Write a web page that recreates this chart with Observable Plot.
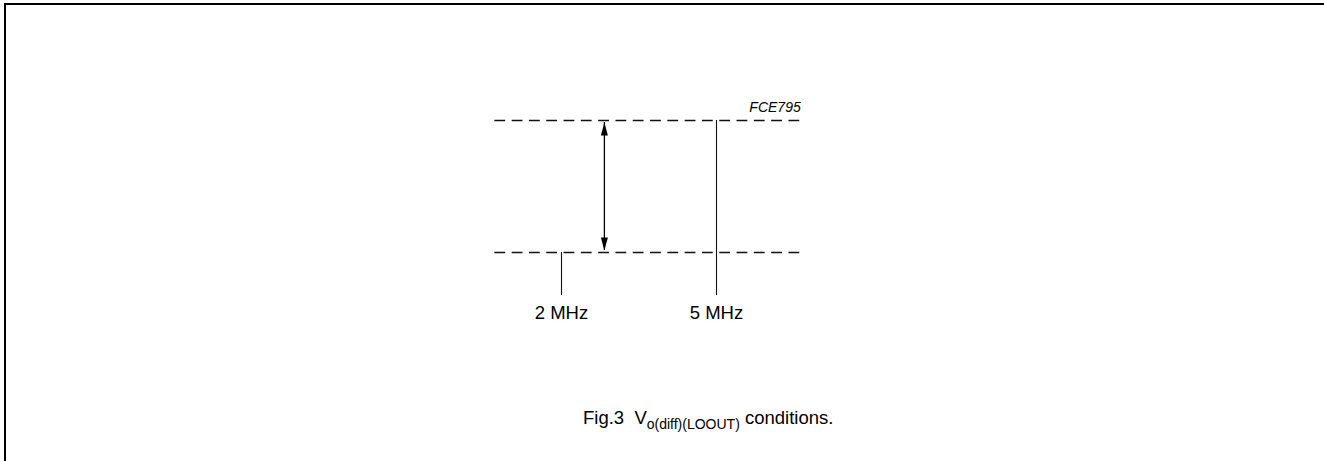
<!DOCTYPE html>
<html>
<head>
<meta charset="utf-8">
<script src="https://cdn.jsdelivr.net/npm/d3@7"></script>
<script src="https://cdn.jsdelivr.net/npm/@observablehq/plot@0.6"></script>
<style>
  html, body { margin: 0; padding: 0; background: #fff; overflow: hidden; }
  #wrap { position: relative; width: 1324px; height: 461px; overflow: hidden; }
  #frame { position: absolute; left: 4px; top: 3px; width: 1400px; height: 500px;
           border-left: 2px solid #000; border-top: 2px solid #000; pointer-events: none; }
  #caption { position: absolute; left: 583px; top: 407px; font-family: "Liberation Sans", Arial, sans-serif;
             font-size: 18.5px; color: #000; white-space: pre; }
  #caption sub { font-size: 14px; vertical-align: -5px; line-height: 0; }
</style>
</head>
<body>
<div id="wrap">
  <div id="chart"></div>
  <div id="frame"></div>
  <div id="caption"></div>
</div>
<script>
// schematic data (x in MHz, y as level: 1 = upper limit, 0 = lower limit)
const levels = [0, 1];
const levelSpan = [0.71, 6.63];          // extent of dashed level lines (MHz)
const markerFreqs = [2, 5];             // frequencies marked
const markerLabels = ["2 MHz", "5 MHz"];
const markerTop = [0, 1];               // level each marker line starts at
const markerBottom = -0.326;            // bottom of marker lines
const labelLevel = -0.462;
const arrowFreq = 2.83;                 // position of the double arrow
const figCode = "FCE795";
const captionMain = "Fig.3  V";
const captionSub = "o(diff)(LOOUT)";
const captionTail = " conditions.";

const dashed = levels.map(l => ({x1: levelSpan[0], x2: levelSpan[1], y: l}));
const ticks = markerFreqs.map((f, i) => ({x: f, y1: markerTop[i], y2: markerBottom, label: markerLabels[i]}));

const upHead = { draw(ctx) { ctx.moveTo(0, 0); ctx.lineTo(-3.5, 13); ctx.lineTo(3.5, 13); ctx.closePath(); } };
const downHead = { draw(ctx) { ctx.moveTo(0, 0); ctx.lineTo(-3.5, -13); ctx.lineTo(3.5, -13); ctx.closePath(); } };

const plot = Plot.plot({
  width: 1324,
  height: 461,
  margin: 0,
  x: {domain: [2, 5], range: [561, 716], axis: null},
  y: {domain: [0, 1], range: [252, 120], axis: null},
  style: {fontFamily: "'Liberation Sans', Arial, sans-serif", background: "#fff"},
  marks: [
    Plot.ruleY(dashed, {x1: "x1", x2: "x2", y: "y", stroke: "#111", strokeWidth: 1.4, strokeDasharray: "10.8,6.5"}),
    Plot.ruleX(ticks, {x: "x", y1: "y1", y2: "y2", stroke: "#111", strokeWidth: 1.1}),
    Plot.text(ticks, {x: "x", y: labelLevel, text: "label", fontSize: 18.5, fill: "#000", textAnchor: "middle"}),
    Plot.ruleX([arrowFreq], {y1: 0.015, y2: 0.985, stroke: "#000", strokeWidth: 1.3}),
    Plot.dot([{x: arrowFreq, y: 0.985}], {x: "x", y: "y", symbol: upHead, fill: "#000", stroke: "none"}),
    Plot.dot([{x: arrowFreq, y: 0.015}], {x: "x", y: "y", symbol: downHead, fill: "#000", stroke: "none"}),
    Plot.text([figCode], {x: levelSpan[1], y: 1.1, text: d => d, textAnchor: "end", fontSize: 14, fontStyle: "italic", fill: "#000"})
  ]
});
document.getElementById("chart").appendChild(plot);

const cap = document.getElementById("caption");
cap.appendChild(document.createTextNode(captionMain));
const sub = document.createElement("sub");
sub.textContent = captionSub;
cap.appendChild(sub);
cap.appendChild(document.createTextNode(captionTail));
</script>
</body>
</html>
